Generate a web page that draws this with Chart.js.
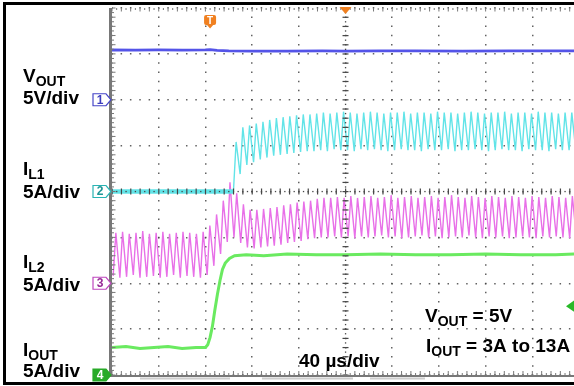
<!DOCTYPE html>
<html>
<head>
<meta charset="utf-8">
<script src="https://cdn.jsdelivr.net/npm/chart.js@4.4.1/dist/chart.umd.min.js"></script>
<style>
  html, body { margin: 0; padding: 0; background: #fff; overflow: hidden; }
  canvas { display: block; }
</style>
</head>
<body>
<canvas id="scope" width="574" height="386"></canvas>
<script>
// scope settings: 40 us/div, 8 vertical divisions, channel offsets in divisions
const timeMax = 395.7;          // us, right edge of the capture
const chOffsetDiv = [2, 0, -2, -4];   // VOUT, IL1, IL2, IOUT marker positions
const chPerDiv = [5, 5, 5, 5];        // 5V/div, 5A/div, 5A/div, 5A/div
const triggerT = 84;            // us
const triggerLevelA = 7.5;      // IOUT trigger level

// VOUT (V)
const voutT = [0, 20, 40, 60, 80, 84, 90, 100, 120, 150, 180, 200, 230, 260, 300, 340, 370, 396];
const voutV = [5.42, 5.40, 5.43, 5.41, 5.44, 5.46, 5.38, 5.33, 5.31, 5.30, 5.32, 5.31, 5.33, 5.32, 5.31, 5.33, 5.32, 5.33];

// IOUT (A), load step 3A -> 13A
const ioutT = [0, 12, 24, 36, 48, 60, 72, 80, 82, 84, 86, 88, 90.3, 92.5, 94.6, 97, 100.6, 105, 115, 130, 150, 175, 200, 230, 260, 290, 320, 350, 380, 396];
const ioutA = [3.0, 3.1, 2.9, 3.0, 3.1, 2.9, 3.0, 3.0, 3.3, 4.1, 5.3, 7.0, 8.8, 10.3, 11.5, 12.2, 12.7, 13.0, 13.1, 13.0, 13.2, 13.1, 13.1, 13.2, 13.1, 13.1, 13.2, 13.1, 13.1, 13.2];

// IL2 (A), ripple valleys and peaks
const il2ValleyT = [1.0, 6.75, 12.5, 18.25, 24.0, 29.75, 35.5, 41.25, 47.0, 52.75,
  58.5, 64.25, 70.0, 75.75, 81.5, 87.25, 93.0, 98.75, 104.5, 110.25,
  116.0, 121.75, 127.5, 133.25, 139.0, 144.75, 150.5, 156.25, 162.0, 167.75,
  173.5, 179.25, 185.0, 190.75, 196.5, 202.25, 208.0, 213.75, 219.5, 225.25,
  231.0, 236.75, 242.5, 248.25, 254.0, 259.75, 265.5, 271.25, 277.0, 282.75,
  288.5, 294.25, 300.0, 305.75, 311.5, 317.25, 323.0, 328.75, 334.5, 340.25,
  346.0, 351.75, 357.5, 363.25, 369.0, 374.75, 380.5, 386.25, 392.0, 397.75];
const il2Valley = [0.8, 0.6, 0.7, 0.9, 0.6, 0.7, 0.8, 0.6, 0.7, 0.9,
  0.6, 0.8, 0.7, 0.6, 0.9, 1.9, 3.2, 4.5, 5.0, 4.4,
  3.9, 3.8, 3.9, 4.0, 4.1, 4.2, 4.4, 4.5, 4.6, 4.8,
  4.9, 5.0, 5.0, 5.1, 5.0, 5.1, 4.9, 5.1, 5.0, 5.1,
  5.2, 5.0, 5.1, 4.9, 5.0, 5.1, 5.2, 5.0, 5.1, 4.9,
  5.0, 5.1, 5.0, 5.2, 5.0, 4.9, 5.1, 5.0, 5.1, 4.9,
  5.0, 5.1, 5.0, 4.9, 5.1, 5.0, 5.1, 5.0, 4.9, 5.0];
const il2PeakT = [3.3, 9.05, 14.8, 20.55, 26.3, 32.05, 37.8, 43.55, 49.3, 55.05,
  60.8, 66.55, 72.3, 78.05, 83.8, 89.55, 95.3, 101.05, 106.8, 112.55,
  118.3, 124.05, 129.8, 135.55, 141.3, 147.05, 152.8, 158.55, 164.3, 170.05,
  175.8, 181.55, 187.3, 193.05, 198.8, 204.55, 210.3, 216.05, 221.8, 227.55,
  233.3, 239.05, 244.8, 250.55, 256.3, 262.05, 267.8, 273.55, 279.3, 285.05,
  290.8, 296.55, 302.3, 308.05, 313.8, 319.55, 325.3, 331.05, 336.8, 342.55,
  348.3, 354.05, 359.8, 365.55, 371.3, 377.05, 382.8, 388.55, 394.3];
const il2Peak = [5.5, 5.6, 5.4, 5.5, 5.7, 5.4, 5.5, 5.6, 5.4, 5.5,
  5.6, 5.5, 5.4, 5.6, 6.3, 7.5, 9.0, 11.0, 9.8, 8.6,
  8.0, 8.0, 8.1, 8.2, 8.3, 8.5, 8.6, 8.8, 8.9, 9.0,
  9.2, 9.3, 9.3, 9.4, 9.3, 9.5, 9.3, 9.4, 9.5, 9.3,
  9.4, 9.6, 9.3, 9.4, 9.5, 9.3, 9.4, 9.5, 9.3, 9.4,
  9.6, 9.4, 9.3, 9.5, 9.4, 9.3, 9.5, 9.4, 9.3, 9.5,
  9.4, 9.3, 9.5, 9.4, 9.3, 9.5, 9.4, 9.3, 9.5];

// IL1 (A), phase off (0A) until the load step, then ripple
const il1IdleA = 0.0;
const il1ValleyT = [104.0, 109.75, 115.5, 121.25, 127.0, 132.75, 138.5, 144.25, 150.0, 155.75,
  161.5, 167.25, 173.0, 178.75, 184.5, 190.25, 196.0, 201.75, 207.5, 213.25,
  219.0, 224.75, 230.5, 236.25, 242.0, 247.75, 253.5, 259.25, 265.0, 270.75,
  276.5, 282.25, 288.0, 293.75, 299.5, 305.25, 311.0, 316.75, 322.5, 328.25,
  334.0, 339.75, 345.5, 351.25, 357.0, 362.75, 368.5, 374.25, 380.0, 385.75,
  391.5, 397.25];
const il1Valley = [0.0, 1.9, 2.9, 3.2, 3.5, 3.7, 3.9, 4.0, 4.1, 4.2,
  4.3, 4.4, 4.4, 4.5, 4.4, 4.6, 4.5, 4.5, 4.4, 4.6,
  4.5, 4.6, 4.5, 4.4, 4.5, 4.6, 4.5, 4.5, 4.4, 4.6,
  4.5, 4.5, 4.6, 4.4, 4.5, 4.5, 4.6, 4.5, 4.4, 4.5,
  4.6, 4.5, 4.5, 4.4, 4.6, 4.5, 4.5, 4.4, 4.6, 4.5,
  4.5, 4.5];
const il1PeakT = [106.3, 112.05, 117.8, 123.55, 129.3, 135.05, 140.8, 146.55, 152.3, 158.05,
  163.8, 169.55, 175.3, 181.05, 186.8, 192.55, 198.3, 204.05, 209.8, 215.55,
  221.3, 227.05, 232.8, 238.55, 244.3, 250.05, 255.8, 261.55, 267.3, 273.05,
  278.8, 284.55, 290.3, 296.05, 301.8, 307.55, 313.3, 319.05, 324.8, 330.55,
  336.3, 342.05, 347.8, 353.55, 359.3, 365.05, 370.8, 376.55, 382.3, 388.05,
  393.8];
const il1Peak = [5.4, 7.0, 7.2, 7.4, 7.6, 7.8, 8.0, 8.1, 8.2, 8.3,
  8.4, 8.4, 8.5, 8.6, 8.5, 8.6, 8.7, 8.6, 8.5, 8.6,
  8.7, 8.6, 8.5, 8.6, 8.6, 8.7, 8.5, 8.6, 8.6, 8.5,
  8.7, 8.6, 8.6, 8.5, 8.6, 8.7, 8.6, 8.5, 8.6, 8.6,
  8.7, 8.5, 8.6, 8.6, 8.5, 8.7, 8.6, 8.6, 8.5, 8.6,
  8.6];

const FONT = '"Liberation Sans", Arial, sans-serif';
const colVout = 'rgb(84,84,232)';
const colIL1 = 'rgb(98,228,232)';
const colIL2 = 'rgb(232,112,232)';
const colIout = 'rgb(106,234,96)';
const colOrange = 'rgb(240,128,32)';

function toDiv(ch, v) {
    return chOffsetDiv[ch] + v / chPerDiv[ch];
}

function trace(ch, times, values) {
    return times.map(function (t, i) { return { x: t, y: toDiv(ch, values[i]) }; });
}

function ripple(ch, valleyT, valley, peakT, peak) {
    var pts = [];
    for (var i = 0; i < valleyT.length; i++) {
        pts.push({ x: valleyT[i], y: toDiv(ch, valley[i]) });
        if (i < peakT.length) pts.push({ x: peakT[i], y: toDiv(ch, peak[i]) });
    }
    return pts;
}

// text with subscripts: parts = [[text, isSub], ...]
function richText(ctx, x, y, parts, size) {
    parts.forEach(function (p) {
        var sub = p[1];
        ctx.font = 'bold ' + (sub ? Math.round(size * 0.74) : size) + 'px ' + FONT;
        ctx.fillText(p[0], x, sub ? y + 4 : y);
        x += ctx.measureText(p[0]).width;
    });
}

function channelMarker(ctx, xr, yc, label, stroke, fill, textCol) {
    ctx.beginPath();
    ctx.moveTo(xr - 18, yc - 6);
    ctx.lineTo(xr - 5, yc - 6);
    ctx.lineTo(xr, yc);
    ctx.lineTo(xr - 5, yc + 6);
    ctx.lineTo(xr - 18, yc + 6);
    ctx.closePath();
    ctx.fillStyle = fill;
    ctx.fill();
    ctx.lineWidth = 1.2;
    ctx.strokeStyle = stroke;
    ctx.stroke();
    ctx.fillStyle = textCol;
    ctx.font = 'bold 12px ' + FONT;
    ctx.textAlign = 'center';
    ctx.textBaseline = 'middle';
    ctx.fillText(label, xr - 11, yc + 0.5);
    ctx.textAlign = 'left';
    ctx.textBaseline = 'alphabetic';
}

const graticule = {
    id: 'graticule',
    afterDatasetsDraw(chart) {
        const ctx = chart.ctx, xs = chart.scales.x, ys = chart.scales.y;
        const x0 = xs.getPixelForValue(0);
        const right = chart.width;
        const yTop = ys.getPixelForValue(4), yBot = ys.getPixelForValue(-4);
        const divW = xs.getPixelForValue(40) - x0;
        const divH = ys.getPixelForValue(0) - ys.getPixelForValue(1);
        const cx = xs.getPixelForValue(200), cy = ys.getPixelForValue(0);
        ctx.save();

        // centre cross with minor ticks
        ctx.fillStyle = 'rgb(70,70,70)';
        for (let k = 0; x0 + k * divW / 10 <= right; k++) {
            const px = x0 + k * divW / 10;
            if (k % 2 === 0) ctx.fillRect(px - 0.5, cy - 3, 1.2, 6);
            else ctx.fillRect(px - 0.6, cy - 0.6, 1.3, 1.3);
        }
        for (let k = 0; k <= 80; k++) {
            const py = yTop + k * divH / 10;
            if (k % 2 === 0) ctx.fillRect(cx - 3, py - 0.5, 6, 1.2);
            else ctx.fillRect(cx - 0.6, py - 0.6, 1.3, 1.3);
        }

        // top, bottom and left borders
        ctx.fillStyle = 'rgb(120,120,120)';
        for (let k = 0; x0 + k * divW / 10 <= right; k++) {
            const px = x0 + k * divW / 10;
            ctx.fillRect(px - 0.5, yTop, 1, k % 2 ? 2 : 3.5);
            ctx.fillRect(px - 0.5, yBot - (k % 2 ? 2 : 4), 1, k % 2 ? 2 : 4);
        }
        ctx.fillRect(x0 - 3, yBot, right - x0 + 3, 2);
        ctx.fillRect(x0 - 3, yTop, 3, yBot - yTop + 2);
        for (let k = 0; k <= 80; k++) {
            const py = yTop + k * divH / 10;
            ctx.fillRect(x0, py - 0.5, k % 2 ? 2 : 3.5, 1);
        }
        ctx.fillStyle = 'rgb(205,205,205)';
        [[140, 230], [262, 353], [370, 425]].forEach(function (s) {
            ctx.fillRect(s[0], yBot + 2.5, s[1] - s[0], 2);
        });

        // outer frame
        ctx.fillStyle = '#000';
        ctx.fillRect(3, 2, 3, 383);
        ctx.fillRect(3, 2, right - 3, 3);
        ctx.fillRect(3, 382, right - 3, 3);

        // trigger marker "T" and horizontal position marker
        const tx = xs.getPixelForValue(triggerT);
        ctx.fillStyle = colOrange;
        ctx.beginPath();
        ctx.roundRect(tx - 6, 15, 12, 10, 2);
        ctx.fill();
        ctx.beginPath();
        ctx.moveTo(tx - 4, 24); ctx.lineTo(tx + 4, 24); ctx.lineTo(tx, 28.5);
        ctx.closePath(); ctx.fill();
        ctx.fillStyle = '#fff';
        ctx.font = 'bold 10px ' + FONT;
        ctx.textAlign = 'center';
        ctx.fillText('T', tx, 24);
        ctx.textAlign = 'left';
        ctx.fillStyle = colOrange;
        ctx.beginPath();
        ctx.moveTo(cx - 6, yTop - 1); ctx.lineTo(cx + 6, yTop - 1); ctx.lineTo(cx, yTop + 6);
        ctx.closePath(); ctx.fill();

        // trigger level arrow on the right
        const ty = ys.getPixelForValue(toDiv(3, triggerLevelA));
        ctx.fillStyle = 'rgb(40,185,40)';
        ctx.beginPath();
        ctx.moveTo(right - 8, ty); ctx.lineTo(right + 2, ty - 7); ctx.lineTo(right + 2, ty + 7);
        ctx.closePath(); ctx.fill();

        // channel ground markers
        const mx = x0 - 1;
        channelMarker(ctx, mx, ys.getPixelForValue(chOffsetDiv[0]), '1', 'rgb(70,70,200)', '#fff', 'rgb(60,60,190)');
        channelMarker(ctx, mx, ys.getPixelForValue(chOffsetDiv[1]), '2', 'rgb(40,180,180)', '#fff', 'rgb(30,150,150)');
        channelMarker(ctx, mx, ys.getPixelForValue(chOffsetDiv[2]), '3', 'rgb(190,70,190)', '#fff', 'rgb(150,40,150)');
        channelMarker(ctx, mx, ys.getPixelForValue(chOffsetDiv[3]), '4', 'rgb(40,170,40)', 'rgb(40,170,40)', '#fff');

        // labels
        ctx.fillStyle = '#000';
        richText(ctx, 23, 82, [['V'], ['OUT', 1]], 19);
        richText(ctx, 23, 104, [['5V/div']], 19);
        richText(ctx, 23, 175, [['I'], ['L1', 1]], 19);
        richText(ctx, 23, 198, [['5A/div']], 19);
        richText(ctx, 23, 268, [['I'], ['L2', 1]], 19);
        richText(ctx, 23, 291, [['5A/div']], 19);
        richText(ctx, 23, 356, [['I'], ['OUT', 1]], 19);
        richText(ctx, 23, 377, [['5A/div']], 19);
        richText(ctx, 425, 322, [['V'], ['OUT', 1], [' = 5V']], 19);
        richText(ctx, 426, 352, [['I'], ['OUT', 1], [' = 3A to 13A']], 19);
        richText(ctx, 299, 367, [['40 \u00b5s/div']], 19);
        ctx.restore();
    }
};

const gridColor = 'rgba(70,70,70,0.85)';

new Chart(document.getElementById('scope'), {
    type: 'line',
    data: {
        datasets: [
            {
                label: 'VOUT', data: trace(0, voutT, voutV),
                borderColor: colVout, borderWidth: 2.8
            },
            {
                label: 'IOUT', data: trace(3, ioutT, ioutA),
                borderColor: colIout, borderWidth: 3
            },
            {
                label: 'IL1',
                data: [{ x: 0, y: toDiv(1, il1IdleA) }].concat(ripple(1, il1ValleyT, il1Valley, il1PeakT, il1Peak)),
                borderColor: colIL1, borderWidth: 1.4,
                segment: { borderWidth: function (c) { return c.p1.parsed.x <= il1ValleyT[0] ? 4.5 : 1.4; } }
            },
            {
                label: 'IL2', data: ripple(2, il2ValleyT, il2Valley, il2PeakT, il2Peak),
                borderColor: colIL2, borderWidth: 1.4
            }
        ]
    },
    options: {
        responsive: false,
        animation: false,
        events: [],
        layout: { padding: { left: 112, top: 8, right: 0, bottom: 11 } },
        elements: { point: { radius: 0 }, line: { tension: 0, fill: false } },
        plugins: { legend: { display: false }, tooltip: { enabled: false } },
        scales: {
            x: {
                type: 'linear', min: 0, max: timeMax,
                ticks: { display: false, stepSize: 40, includeBounds: false },
                grid: { color: gridColor, lineWidth: 1.5, drawTicks: false },
                border: { display: false, dash: [1.5, 7.68], dashOffset: 0.75 }
            },
            y: {
                type: 'linear', min: -4, max: 4,
                ticks: { display: false, stepSize: 1 },
                grid: { color: gridColor, lineWidth: 1.5, drawTicks: false },
                border: { display: false, dash: [1.5, 7.84], dashOffset: 0.75 }
            }
        }
    },
    plugins: [graticule]
});
</script>
</body>
</html>
